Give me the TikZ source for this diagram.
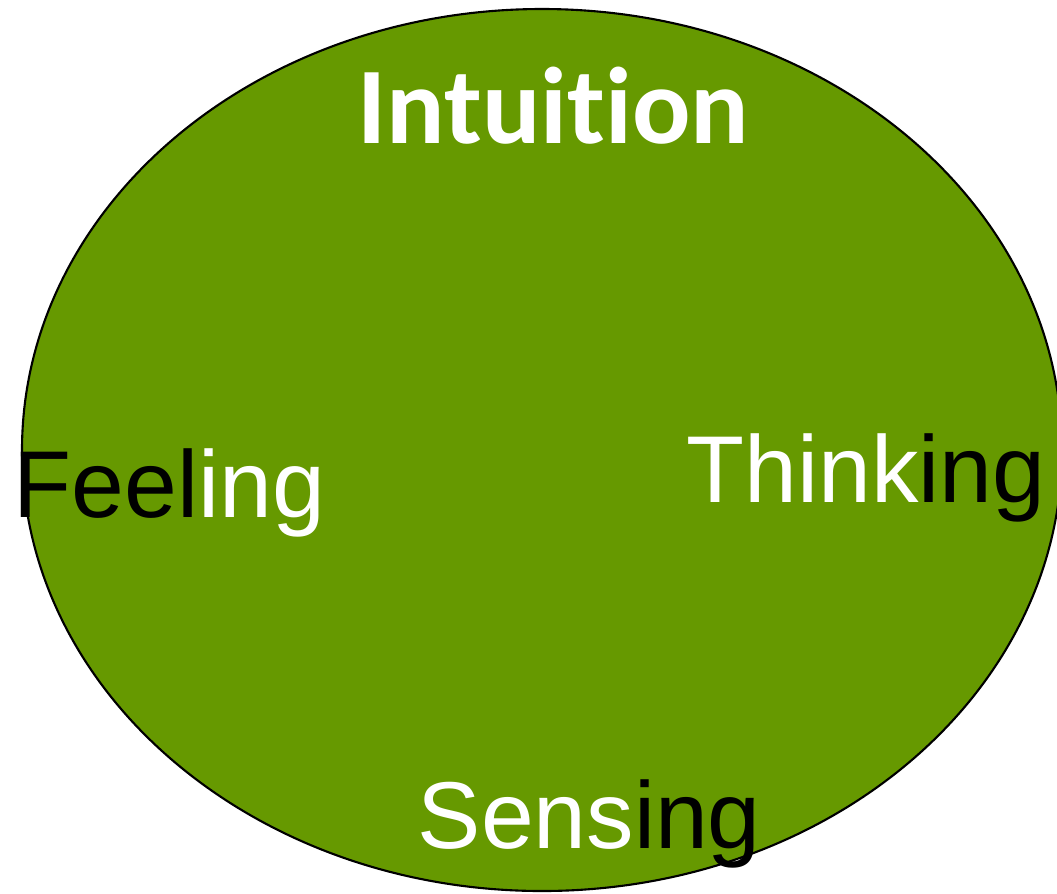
\documentclass[tikz,border=0pt]{standalone}
\usepackage{fontspec}
\setmainfont{Liberation Sans}
\newfontfamily\boldlabelfont[Ligatures=NoCommon]{Carlito}
\usetikzlibrary{positioning}
\definecolor{leafgreen}{RGB}{102,153,0}

\begin{document}
\begin{tikzpicture}[x=0.01cm,y=-0.01cm,
  word/.style={anchor=base west,inner sep=0pt,font=\fontsize{27}{30}\selectfont}]

\useasboundingbox (0,0) rectangle (1057,893);

\draw[line width=0.6pt,fill=leafgreen] (542,450) ellipse (520 and 441);

\node[word,font=\boldlabelfont\bfseries\fontsize{31}{34}\selectfont,text=white] (intuition) at (357,143) {Intuition};
\node[word] (feeling) at (13,517) {{\color{black}Feel}{\color{white}ing}};
\node[word] (thinking) at (686,502) {{\color{white}Think}{\color{black}ing}};
\node[word] (sensing) at (417,848) {{\color{white}Sens}{\color{black}ing}};

\end{tikzpicture}
\end{document}
